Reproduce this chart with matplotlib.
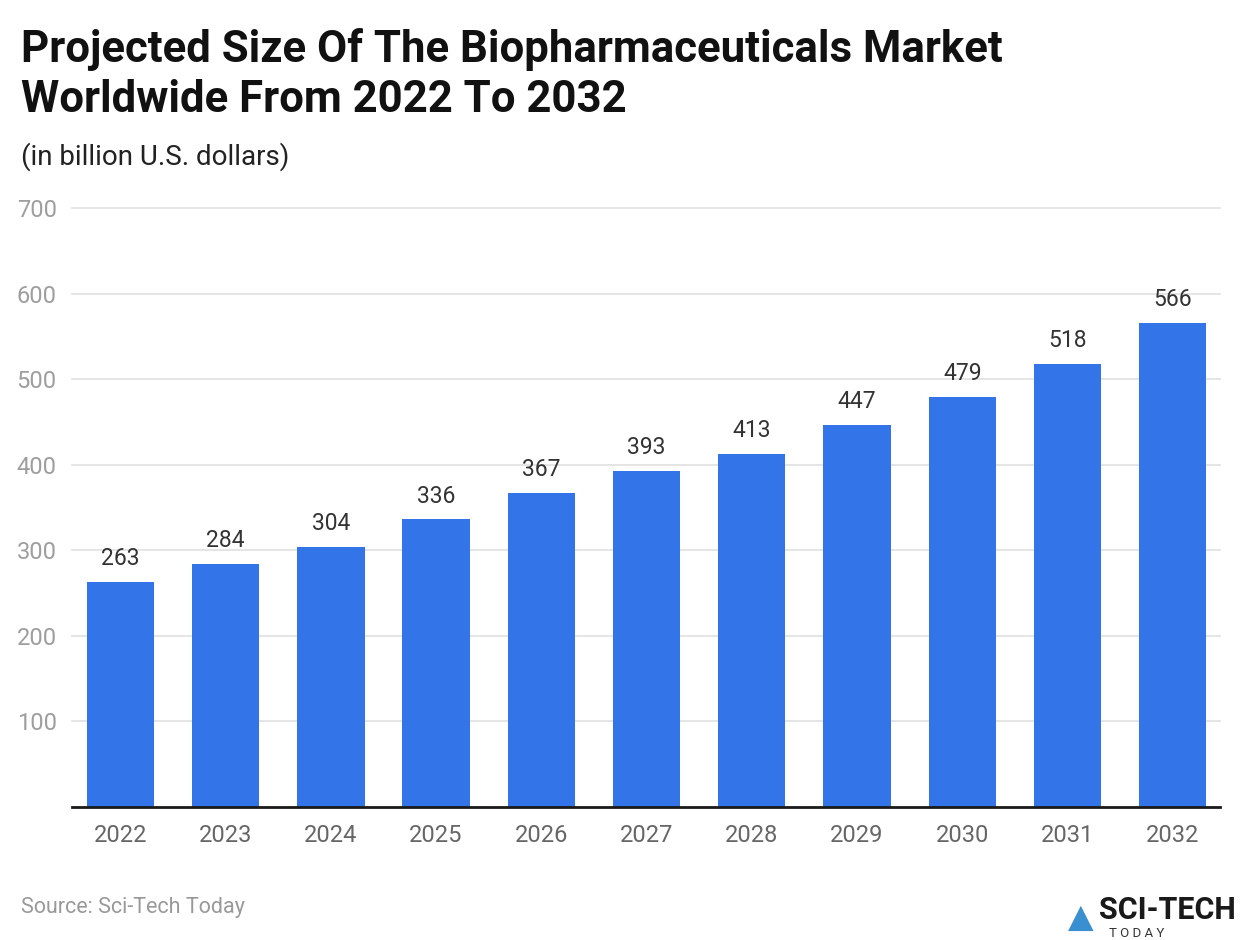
import matplotlib.pyplot as plt

plt.rcParams['font.family'] = ['Roboto', 'DejaVu Sans']

years = ["2022", "2023", "2024", "2025", "2026", "2027", "2028", "2029", "2030", "2031", "2032"]
market_size = [263, 284, 304, 336, 367, 393, 413, 447, 479, 518, 566]
y_ticks = [100, 200, 300, 400, 500, 600, 700]

fig = plt.figure(figsize=(12.4, 9.4), dpi=100)
ax = fig.add_axes([0.058, 0.1415, 0.926, 0.6372])

x = range(len(years))
bars = ax.bar(x, market_size, width=0.64, color="#3375E8", zorder=3)
for xi, v in zip(x, market_size):
    ax.text(xi, v + 14, str(v), ha="center", va="bottom", fontsize=16.5, color="#333333")

ax.set_xlim(-0.46, 10.45)
ax.set_ylim(0, 700)
ax.set_yticks(y_ticks)
ax.set_xticks(list(x))
ax.set_xticklabels(years)
ax.tick_params(axis="y", length=0, pad=11, labelsize=17, labelcolor="#9e9e9e")
ax.tick_params(axis="x", length=0, pad=12, labelsize=17, labelcolor="#666666")
ax.grid(axis="y", color="#e3e3e3", linewidth=1.3, zorder=0)
for gl in ax.get_ygridlines():
    gl.set_clip_on(False)
for s in ["top", "right", "left"]:
    ax.spines[s].set_visible(False)
ax.spines["bottom"].set_linewidth(2)
ax.spines["bottom"].set_color("#1a1a1a")
ax.spines["bottom"].set_zorder(4)

fig.text(0.017, 1 - 62 / 940, "Projected Size Of The Biopharmaceuticals Market",
         fontsize=31.5, fontweight="bold", color="#111111", va="baseline", ha="left")
fig.text(0.017, 1 - 112 / 940, "Worldwide From 2022 To 2032",
         fontsize=31.5, fontweight="bold", color="#111111", va="baseline", ha="left")
fig.text(0.017, 0.833, "(in billion U.S. dollars)", fontsize=20, color="#222222", va="center", ha="left")
fig.text(0.017, 0.035, "Source: Sci-Tech Today", fontsize=15.5, color="#999999", va="center", ha="left")

# logo
fig.text(0.886, 0.032, "SCI-TECH", fontsize=22, fontweight="bold", color="#1a1a1a", va="center", ha="left")
fig.text(0.894, 0.007, "T O D A Y", fontsize=9.5, color="#333333", va="center", ha="left")
fig.text(0.861, 0.024, "\u25B2", fontsize=24, color="#3a8fd0", va="center", ha="left")

fig.savefig("out.png", dpi=100)
